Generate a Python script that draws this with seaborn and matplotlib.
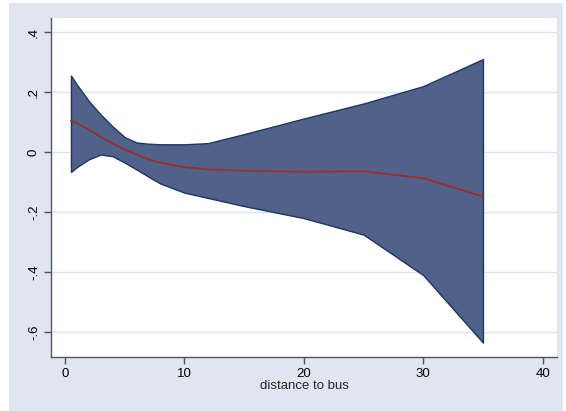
import matplotlib
matplotlib.use("Agg")
import matplotlib.pyplot as plt
import matplotlib.patches as mpatches
import seaborn as sns
import pandas as pd

# data
distance = [0.5, 1, 2, 3, 4, 5, 6, 7, 8, 10, 12, 15, 20, 25, 30, 35]
upper = [0.255, 0.225, 0.17, 0.125, 0.085, 0.05, 0.032, 0.028, 0.026, 0.026, 0.03, 0.06, 0.112, 0.162, 0.22, 0.31]
lower = [-0.066, -0.05, -0.024, -0.008, -0.014, -0.035, -0.058, -0.082, -0.105, -0.135, -0.153, -0.18, -0.22, -0.275, -0.41, -0.635]
fit = [0.105, 0.097, 0.075, 0.05, 0.028, 0.008, -0.008, -0.024, -0.036, -0.05, -0.058, -0.062, -0.066, -0.064, -0.087, -0.148]
xticks = [0, 10, 20, 30, 40]
yticks = [-0.6, -0.4, -0.2, 0, 0.2, 0.4]
ytick_labels = ["-.6", "-.4", "-.2", "0", ".2", ".4"]
xlabel = "distance to bus"

sns.set_theme(style="white")
plt.rcParams['font.family'] = ['Liberation Sans', 'DejaVu Sans']

df = pd.DataFrame({"distance": distance, "upper": upper, "lower": lower, "fit": fit})

W, H = 566, 411
fig = plt.figure(figsize=(W / 100, H / 100), dpi=100, facecolor="white")
bg = mpatches.Rectangle((9 / W, 0), (563 - 9) / W, (411 - 3) / H, transform=fig.transFigure,
                        facecolor="#E0E5EF", edgecolor="none", zorder=-10)
fig.patches.append(bg)

ax = fig.add_axes([51 / W, (H - 357) / H, (557 - 51) / W, (357 - 18) / H])
ax.set_zorder(1)
ax.set_facecolor("white")

for yt in yticks:
    ax.axhline(yt, color="#DDE3F0", lw=1.0, zorder=0)

ax.fill_between(df["distance"], df["lower"], df["upper"], facecolor="#506289",
                edgecolor="#1E3566", linewidth=1.0, zorder=2)
sns.lineplot(data=df, x="distance", y="fit", ax=ax, color="#A02C2C", lw=1.3, zorder=3)

ax.set_xlim(-1.17, 41.2)
ax.set_ylim(-0.683, 0.447)
ax.set_xticks(xticks)
ax.set_xticklabels([str(v) for v in xticks], fontsize=9.5)
ax.set_yticks(yticks)
ax.set_yticklabels(ytick_labels, fontsize=9.5, rotation=90, va="center")
ax.set_xlabel(xlabel, fontsize=9.5, labelpad=0)
ax.set_ylabel("")

for s in ["top", "right"]:
    ax.spines[s].set_visible(False)
for s in ["left", "bottom"]:
    ax.spines[s].set_color("#555555")
    ax.spines[s].set_linewidth(1.0)
ax.tick_params(axis="both", direction="out", length=5, width=1, color="#555555",
               labelcolor="black", pad=3)
ax.tick_params(axis="x", bottom=True)
ax.tick_params(axis="y", left=True)

fig.savefig("out.png", dpi=100, facecolor="white")
